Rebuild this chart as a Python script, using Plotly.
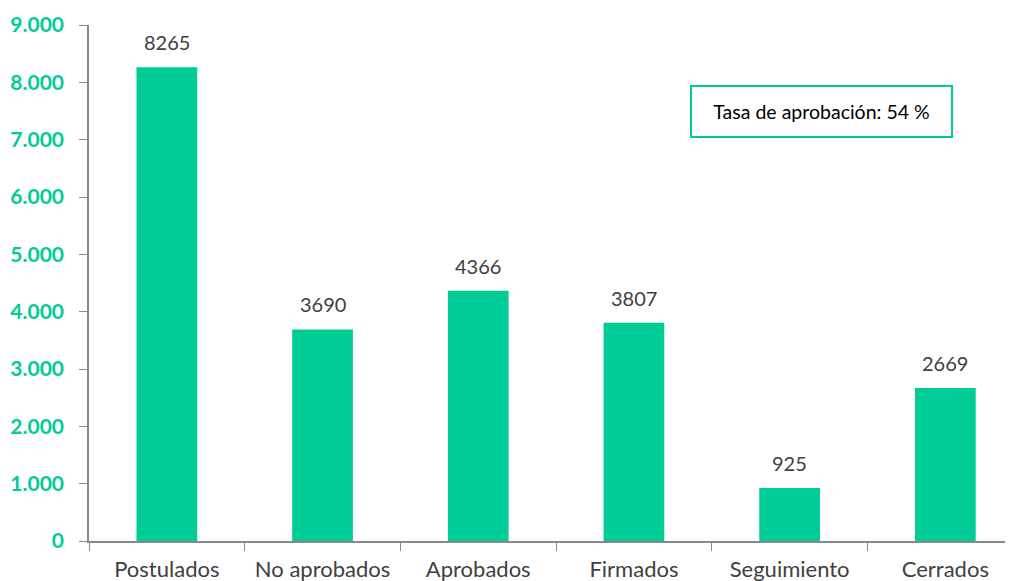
import plotly.graph_objects as go

categories = ["Postulados", "No aprobados", "Aprobados", "Firmados", "Seguimiento", "Cerrados"]
values = [8265, 3690, 4366, 3807, 925, 2669]
y_ticks = [0, 1000, 2000, 3000, 4000, 5000, 6000, 7000, 8000, 9000]
y_ticklabels = ["0", "1.000", "2.000", "3.000", "4.000", "5.000", "6.000", "7.000", "8.000", "9.000"]
note_text = "Tasa de aprobación: 54 %"

GREEN = "#00CC98"
FONT = "Lato"

fig = go.Figure()
fig.add_trace(go.Bar(
    x=categories, y=values,
    marker=dict(color=GREEN, line=dict(width=0)),
    width=0.39,
))

value_labels = [dict(
    x=c, y=v, xref="x", yref="y",
    text=str(v), showarrow=False,
    xanchor="center", yanchor="bottom", yshift=11,
    font=dict(family=FONT, size=20, color="#404040"),
) for c, v in zip(categories, values)]

fig.update_layout(
    width=1013, height=581,
    margin=dict(l=81, r=0, t=17, b=48),
    plot_bgcolor="white", paper_bgcolor="white",
    showlegend=False,
    font=dict(family=FONT),
    xaxis=dict(
        range=[-0.5, 5.486],
        automargin=False,
        showline=True, linecolor="#898989", linewidth=1.5,
        ticks="outside", tickcolor="#898989", ticklen=8,
        tickson="boundaries",
        showgrid=False,
        tickfont=dict(family=FONT, size=22, color="#404040"),
        ticklabelstandoff=8,
    ),
    yaxis=dict(
        range=[0, 9000],
        automargin=False,
        tickvals=y_ticks, ticktext=y_ticklabels,
        showline=True, linecolor="#898989", linewidth=1.5,
        ticks="outside", tickcolor="#898989", ticklen=8,
        showgrid=False, zeroline=False,
        tickfont=dict(family=FONT, size=21, color=GREEN, weight="bold"),
        ticklabelstandoff=11,
    ),
    annotations=value_labels + [dict(
        xref="paper", yref="paper",
        x=0.786, y=0.8324, xanchor="center", yanchor="middle",
        text=note_text, showarrow=False,
        font=dict(family=FONT, size=19.5, color="#000000"),
        bordercolor=GREEN, borderwidth=2, borderpad=0,
        width=259, height=49, bgcolor="white",
    )],
)

fig.write_html("out.html")
